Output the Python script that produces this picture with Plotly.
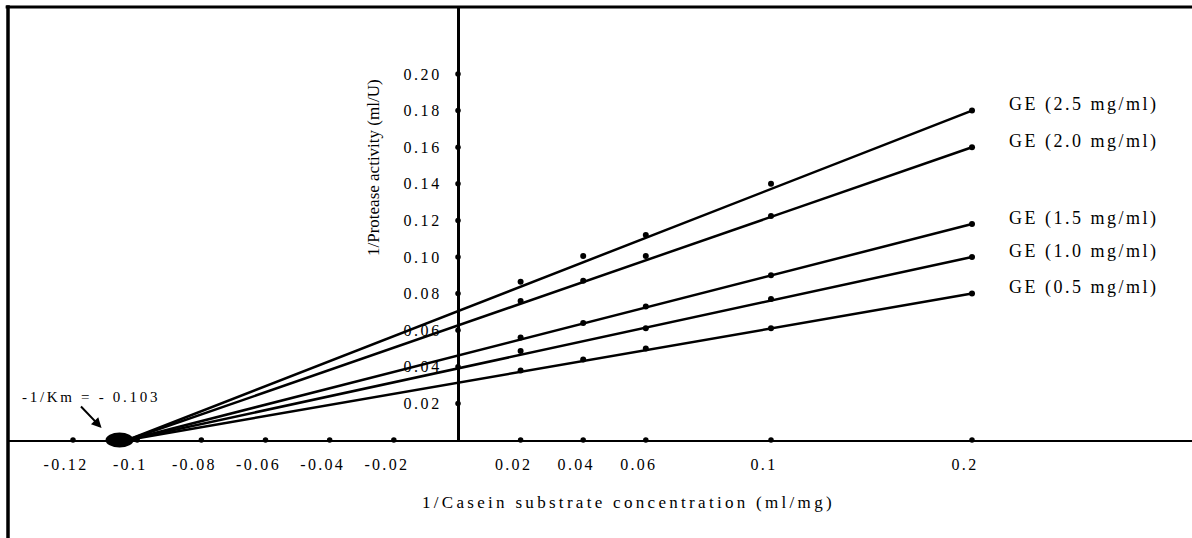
import plotly.graph_objects as go

# ---------------- data ----------------
conc_x = [0.02, 0.04, 0.06, 0.1, 0.2]            # 1/[S] (ml/mg)
series_names = ["GE (2.5 mg/ml)", "GE (2.0 mg/ml)", "GE (1.5 mg/ml)",
                "GE (1.0 mg/ml)", "GE (0.5 mg/ml)"]
ge_25 = [0.0865, 0.1005, 0.112, 0.140, 0.180]
ge_20 = [0.076, 0.087, 0.1005, 0.1224, 0.160]
ge_15 = [0.056, 0.064, 0.073, 0.090, 0.118]
ge_10 = [0.0486, None, 0.061, 0.077, 0.100]
ge_05 = [0.038, 0.044, 0.050, 0.061, 0.080]
km_intercept = -0.103                             # -1/Km

x_ticks = [-0.12, -0.1, -0.08, -0.06, -0.04, -0.02, 0.02, 0.04, 0.06, 0.1, 0.2]
x_tick_text = ["-0.12", "-0.1", "-0.08", "-0.06", "-0.04", "-0.02",
               "0.02", "0.04", "0.06", "0.1", "0.2"]
y_ticks = [0.02, 0.04, 0.06, 0.08, 0.10, 0.12, 0.14, 0.16, 0.18, 0.20]
y_tick_text = ["0.02", "0.04", "0.06", "0.08", "0.10", "0.12", "0.14",
               "0.16", "0.18", "0.20"]

all_series = [ge_25, ge_20, ge_15, ge_10, ge_05]

# --------- broken x-axis transform (axis is compressed beyond 0.1) ---------
NEG_FACTOR = 1.025
BREAK = 0.1
COMPRESS = 0.6422


def disp(x):
    if x < 0:
        return x * NEG_FACTOR
    if x <= BREAK:
        return x
    return BREAK + (x - BREAK) * COMPRESS


def spaced(t, px):
    return f'<span style="letter-spacing:{px}px">{t}</span>'


FONT = "Liberation Serif"
W, H = 1192, 538
ML, MR, MT, MB = 8, 0, 8, 98
PX_PER_UNIT = 3130.0
Y_PX_PER_UNIT = 1830.0
plot_w = W - ML - MR
plot_h = H - MT - MB
x_zero_px = 458
x_range = [(ML - x_zero_px) / PX_PER_UNIT, (W - MR - x_zero_px) / PX_PER_UNIT]
y_range = [0, plot_h / Y_PX_PER_UNIT]


def px_to_paper_x(px):
    return (px - ML) / plot_w


def px_to_paper_y(py):
    return (plot_h + MT - py) / plot_h


fig = go.Figure()

# fitted Lineweaver-Burk lines (from -1/Km intercept to the last point)
for vals in all_series:
    fig.add_trace(go.Scatter(
        x=[disp(km_intercept), disp(conc_x[-1])], y=[0, vals[-1]],
        mode="lines", line=dict(color="black", width=2.5),
        hoverinfo="skip", showlegend=False))

# measured points
for name, vals in zip(series_names, all_series):
    xs = [disp(x) for x, v in zip(conc_x, vals) if v is not None]
    ys = [v for v in vals if v is not None]
    fig.add_trace(go.Scatter(
        x=xs, y=ys, mode="markers", name=name,
        marker=dict(color="black", size=6), cliponaxis=False,
        showlegend=False))

# dot-style tick marks on both axes
fig.add_trace(go.Scatter(
    x=[disp(v) for v in x_ticks], y=[0] * len(x_ticks), mode="markers",
    marker=dict(color="black", size=5.5), cliponaxis=False,
    hoverinfo="skip", showlegend=False))
fig.add_trace(go.Scatter(
    x=[0] * len(y_ticks), y=y_ticks, mode="markers",
    marker=dict(color="black", size=5.5), cliponaxis=False,
    hoverinfo="skip", showlegend=False))

fig.update_layout(
    width=W, height=H, autosize=False,
    margin=dict(l=ML, r=MR, t=MT, b=MB, pad=0),
    paper_bgcolor="white", plot_bgcolor="white",
    font=dict(family=FONT, color="black", size=15),
    showlegend=False,
    xaxis=dict(
        range=x_range, showgrid=False, zeroline=False,
        showline=True, linecolor="black", linewidth=2,
        tickmode="array", tickvals=[disp(v) for v in x_ticks],
        ticktext=[spaced(t, 2.3) for t in x_tick_text],
        ticks="", ticklabelstandoff=9, ticklabelshift=-7,
        tickfont=dict(family=FONT, size=16, color="black"),
        fixedrange=True,
    ),
    yaxis=dict(
        range=y_range, showgrid=False, zeroline=False,
        anchor="free", position=px_to_paper_x(x_zero_px),
        showline=True, linecolor="black", linewidth=3,
        tickmode="array", tickvals=y_ticks,
        ticktext=[spaced(t, 2.6) for t in y_tick_text],
        ticks="", ticklabelstandoff=12,
        tickfont=dict(family=FONT, size=16, color="black"),
        fixedrange=True,
    ),
)

# outer frame (left and top edges visible in the picture)
frame_top = px_to_paper_y(7)
fig.add_shape(type="line", xref="paper", yref="paper", x0=0, x1=0,
              y0=frame_top + 0.004, y1=px_to_paper_y(H + 5),
              line=dict(color="black", width=3.5))
fig.add_shape(type="line", xref="paper", yref="paper", x0=-0.002, x1=1.01,
              y0=frame_top, y1=frame_top, line=dict(color="black", width=3))

# big dot marking -1/Km on the x-axis
fig.add_shape(type="circle", xref="x", yref="paper",
              xsizemode="pixel", ysizemode="pixel",
              xanchor=disp(km_intercept), yanchor=0,
              x0=-22, x1=6, y0=-7.5, y1=7.5,
              fillcolor="black", line=dict(width=0), layer="above")

annotations = []
# series labels next to line ends
for name, vals in zip(series_names, all_series):
    annotations.append(dict(
        x=disp(conc_x[-1]), y=vals[-1], xref="x", yref="y",
        text=spaced(name, 2.5), showarrow=False, xanchor="left",
        yanchor="middle", xshift=35, yshift=6,
        font=dict(family=FONT, size=18, color="black")))

# -1/Km label and arrow
annotations.append(dict(
    x=disp(km_intercept), y=0, xref="x", yref="y",
    text=spaced("-1/Km = - 0.103", 2.7), showarrow=False,
    xanchor="center", yanchor="middle",
    xshift=-37, yshift=43, font=dict(family=FONT, size=15, color="black")))
annotations.append(dict(
    x=disp(km_intercept), y=0, xref="x", yref="y", text="",
    showarrow=True, arrowhead=2, arrowsize=1, arrowwidth=2,
    arrowcolor="black", ax=-22, ay=-23, xshift=-26, yshift=12))

# axis titles
annotations.append(dict(
    x=px_to_paper_x(628), y=px_to_paper_y(503),
    xref="paper", yref="paper", showarrow=False,
    xanchor="center", yanchor="middle",
    text=spaced("1/Casein substrate concentration (ml/mg)", 3.3),
    font=dict(family=FONT, size=17, color="black")))
annotations.append(dict(
    x=px_to_paper_x(373), y=px_to_paper_y(168),
    xref="paper", yref="paper", showarrow=False, textangle=-90,
    xanchor="center", yanchor="middle",
    text="1/Protease activity (ml/U)",
    font=dict(family=FONT, size=17, color="black")))

fig.update_layout(annotations=annotations)

# the reference image starts at the page corner: drop the default body margin
fig.write_html("out.html", config={"displayModeBar": False},
               post_script="document.body.style.margin='0px';")
